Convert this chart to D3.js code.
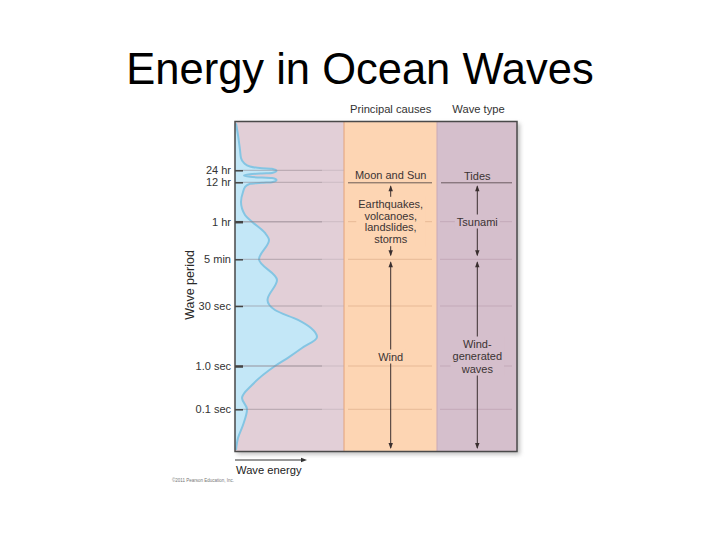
<!DOCTYPE html>
<html><head><meta charset="utf-8">
<script src="https://cdn.jsdelivr.net/npm/d3@7"></script>
<style>
html,body{margin:0;padding:0;background:#fff;}
svg{display:block;font-family:"Liberation Sans",Arial,sans-serif;}
</style></head>
<body>
<svg id="c" width="720" height="540"></svg>
<script>
// ---- data ----
const title = "Energy in Ocean Waves";
const tickPeriods = [86400, 43200, 3600, 300, 30, 1, 0.1];           // seconds
const tickLabels  = ["24 hr", "12 hr", "1 hr", "5 min", "30 sec", "1.0 sec", "0.1 sec"];
const curvePeriods = [1.3e6, 6.6e5, 2.8e5, 1.76e5, 131600, 107500, 97500, 94600, 83900, 74300, 72100, 68900, 63900, 59300, 56600, 55300, 49300, 43400, 41800, 39300, 32100, 23400, 12400, 5480, 3600, 1710, 1074, 300, 108, 40.3, 23.9, 13.6, 8.6, 5.2, 2.77, 1.66, 1, 0.364, 0.182, 0.1, 0.0434, 0.0217, 0.0115];
const curveEnergy  = [1, 3, 5, 6, 9, 15, 27, 37, 41.5, 37, 27, 15, 9, 15, 27, 37, 41.5, 37, 27, 15, 10, 8, 6, 10, 17, 30, 34, 24, 42, 32.5, 40, 63, 76, 82, 67, 54, 40, 17, 7, 12, 8, 3, 1];
const columnHeaders = ["Principal causes", "Wave type"];
const causes   = [["Moon and Sun"], ["Earthquakes,", "volcanoes,", "landslides,", "storms"], ["Wind"]];
const waveTypes = [["Tides"], ["Tsunami"], ["Wind-", "generated", "waves"]];
const bandLimits = [43200, 300, 0.0115];   // period limits: 12 hr, 5 min, bottom

// ---- layout ----
const svg = d3.select("#c");
const L = 235, R = 517, T = 121.5, B = 451.5;
const col1 = 344, col2 = 437;
const font = '"Liberation Sans",Arial,sans-serif';

const y = d3.scaleLog()
  .domain([0.1, 1, 30, 300, 3600, 43200, 86400])
  .range([409.3, 366, 306, 259.3, 221.7, 182.3, 170.3]);
const x = d3.scaleLinear().domain([0, 100]).range([L, L + 100]);

// title
svg.append("text").attr("x", 360).attr("y", 84).attr("text-anchor", "middle")
  .attr("font-size", 43.5).attr("fill", "#000").text(title);

// shadow
const defs = svg.append("defs");
const f = defs.append("filter").attr("id","sh").attr("x","-10%").attr("y","-10%").attr("width","130%").attr("height","130%");
f.append("feGaussianBlur").attr("stdDeviation", 2);
svg.append("rect").attr("x", L + 2).attr("y", T + 2).attr("width", R - L + 1).attr("height", B - T + 1)
  .attr("fill", "#999").attr("opacity", 0.6).attr("filter", "url(#sh)");

// column backgrounds
const cols = [[L, col1, "#e2cfd7"], [col1, col2, "#fdd5b3"], [col2, R, "#d5bfcc"]];
svg.selectAll("rect.col").data(cols).join("rect").attr("class", "col")
  .attr("x", d => d[0]).attr("y", T).attr("width", d => d[1] - d[0]).attr("height", B - T)
  .attr("fill", d => d[2]);
svg.append("line").attr("x1", col1).attr("x2", col1).attr("y1", T).attr("y2", B).attr("stroke", "#e3a27a").attr("stroke-width", 1);
svg.append("line").attr("x1", col2).attr("x2", col2).attr("y1", T).attr("y2", B).attr("stroke", "#c9a9b6").attr("stroke-width", 1);

// energy curve
const pts = curvePeriods.map((p, i) => ({p, e: curveEnergy[i]}));
const area = d3.area().curve(d3.curveMonotoneY).y(d => y(d.p)).x0(x(0)).x1(d => x(d.e));
svg.append("path").datum(pts).attr("d", area).attr("fill", "#c3e7f7");
svg.append("path").datum(pts).attr("d", area.lineX1()).attr("fill", "none")
  .attr("stroke", "#84c5e3").attr("stroke-width", 2);

// gridlines in the spectrum panel
tickPeriods.forEach((p, i) => {
  const yy = y(p);
  svg.append("line").attr("x1", L).attr("x2", 322).attr("y1", yy).attr("y2", yy)
    .attr("stroke", "#8d8088").attr("stroke-opacity", 0.55).attr("stroke-width", i === 2 || i === 5 ? 1.4 : 1);
  svg.append("line").attr("x1", 322).attr("x2", col1).attr("y1", yy).attr("y2", yy)
    .attr("stroke", "#b9a9b1").attr("stroke-opacity", 0.5).attr("stroke-width", 1);
});
// faint lines in the columns
tickPeriods.slice(2).forEach(p => {
  const yy = y(p);
  svg.append("line").attr("x1", col1 + 4).attr("x2", col2 - 5).attr("y1", yy).attr("y2", yy)
    .attr("stroke", "#e7b996").attr("stroke-width", 1);
  svg.append("line").attr("x1", col2 + 3).attr("x2", R - 5).attr("y1", yy).attr("y2", yy)
    .attr("stroke", "#c3a9b8").attr("stroke-width", 1);
});
// 12 hr underlines
svg.append("line").attr("x1", col1 + 4).attr("x2", col2 - 5).attr("y1", y(43200) + 0.5).attr("y2", y(43200) + 0.5)
  .attr("stroke", "#6a5a55").attr("stroke-width", 1);
svg.append("line").attr("x1", col2 + 4).attr("x2", R - 5).attr("y1", y(43200) + 0.5).attr("y2", y(43200) + 0.5)
  .attr("stroke", "#6a5a60").attr("stroke-width", 1);

// axis
const axis = d3.axisLeft(y).tickValues(tickPeriods).tickFormat((d, i) => tickLabels[i]).tickSize(-8).tickPadding(4);
const g = svg.append("g").attr("transform", "translate(" + L + ",0)").call(axis);
g.select(".domain").remove();
g.selectAll(".tick line").attr("stroke", "#444").attr("stroke-width", (d, i) => (i === 2 || i === 5) ? 2.5 : 1.5);
g.selectAll(".tick text").attr("font-size", 11).attr("fill", "#333").attr("font-family", font);

// frame
svg.append("rect").attr("x", L).attr("y", T).attr("width", R - L).attr("height", B - T)
  .attr("fill", "none").attr("stroke", "#4a4a4a").attr("stroke-width", 1.5);

// arrows
function arrow(cx, y1, y2, upHead, downHead) {
  svg.append("line").attr("x1", cx).attr("x2", cx).attr("y1", y1).attr("y2", y2).attr("stroke", "#3a2f2f").attr("stroke-width", 1);
  if (upHead) svg.append("path").attr("d", `M${cx},${y1 - 1}l-2.2,6h4.4z`).attr("fill", "#3a2f2f");
  if (downHead) svg.append("path").attr("d", `M${cx},${y2 + 1}l-2.2,-6h4.4z`).attr("fill", "#3a2f2f");
}
const cx1 = 390.7, cx2 = 477.3;
[cx1, cx2].forEach(cx => {
  arrow(cx, y(bandLimits[0]) + 4, y(bandLimits[1]) - 4, true, true);
  arrow(cx, y(bandLimits[1]) + 3, y(bandLimits[2]) - 2, true, true);
});

// labels with background
function block(lines, cx, cy, bg, lh) {
  const n = lines.length;
  const g = svg.append("g");
  const t = g.append("text").attr("text-anchor", "middle").attr("font-size", 11).attr("fill", "#3b3333").attr("font-family", font);
  lines.forEach((s, i) => {
    t.append("tspan").attr("x", cx).attr("y", cy - (n - 1) * lh / 2 + i * lh + 4).text(s);
  });
  const bb = t.node().getBBox();
  g.insert("rect", "text").attr("x", bb.x - 2).attr("y", bb.y - 1).attr("width", bb.width + 4).attr("height", bb.height + 2).attr("fill", bg);
}
// causes
svg.append("text").attr("x", cx1).attr("y", 179).attr("text-anchor", "middle").attr("font-size", 11).attr("fill", "#3b3333").text(causes[0][0]);
block(causes[1], cx1, 221.5, "#fdd5b3", 11.8);
block(causes[2], cx1, 356.5, "#fdd5b3", 11.8);
svg.append("text").attr("x", cx2).attr("y", 180).attr("text-anchor", "middle").attr("font-size", 11).attr("fill", "#3b3333").text(waveTypes[0][0]);
block(waveTypes[1], cx2, 221.5, "#d5bfcc", 11.8);
block(waveTypes[2], cx2, 356, "#d5bfcc", 12.5);

// headers
svg.append("text").attr("x", cx1).attr("y", 113).attr("text-anchor", "middle").attr("font-size", 11.2).attr("fill", "#333").text(columnHeaders[0]);
svg.append("text").attr("x", 478.5).attr("y", 113).attr("text-anchor", "middle").attr("font-size", 11.2).attr("fill", "#333").text(columnHeaders[1]);

// axis titles
svg.append("text").attr("transform", "translate(194,285) rotate(-90)").attr("text-anchor", "middle")
  .attr("font-size", 12.5).attr("fill", "#2a2a2a").text("Wave period");
svg.append("text").attr("x", 236).attr("y", 474).attr("font-size", 11.2).attr("fill", "#222").text("Wave energy");
svg.append("line").attr("x1", L).attr("x2", 302).attr("y1", 460).attr("y2", 460).attr("stroke", "#333").attr("stroke-width", 1);
svg.append("path").attr("d", "M307,460l-6,-2.2v4.4z").attr("fill", "#333");
svg.append("text").attr("x", 172).attr("y", 482).attr("font-size", 4.5).attr("fill", "#777").text("©2011 Pearson Education, Inc.");
</script>
</body></html>
